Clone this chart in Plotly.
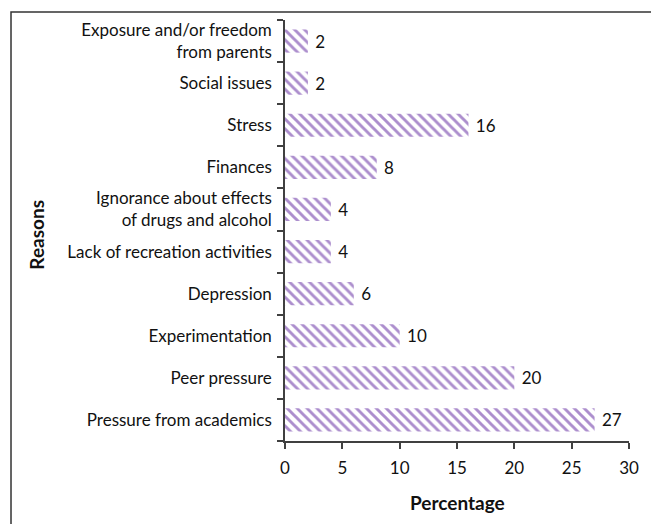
import plotly.graph_objects as go

# Reasons for substance use, listed bottom to top
reasons = [
    "Pressure from academics",
    "Peer pressure",
    "Experimentation",
    "Depression",
    "Lack of recreation activities",
    "Ignorance about effects<br>of drugs and alcohol",
    "Finances",
    "Stress",
    "Social issues",
    "Exposure and/or freedom<br>from parents",
]
percentages = [27, 20, 10, 6, 4, 4, 8, 16, 2, 2]
x_ticks = [0, 5, 10, 15, 20, 25, 30]

FONT = "Lato"
AXIS_COLOR = "#404040"
TEXT_COLOR = "#111111"

fig = go.Figure(
    go.Bar(
        x=percentages,
        y=reasons,
        orientation="h",
        text=[str(v) for v in percentages],
        texttemplate=" %{text}",
        textposition="outside",
        textfont=dict(family=FONT, size=17, color=TEXT_COLOR),
        cliponaxis=False,
        marker=dict(
            color="white",
            line=dict(width=0),
            pattern=dict(
                shape="\\",
                fgcolor="#5A1E9C",
                bgcolor="white",
                size=7,
                solidity=0.42,
            ),
        ),
    )
)

fig.update_layout(
    width=651,
    height=524,
    margin=dict(l=285, r=22, t=20, b=83),
    paper_bgcolor="white",
    plot_bgcolor="white",
    bargap=0.45,
    showlegend=False,
    font=dict(family=FONT, size=17, color=TEXT_COLOR),
)

fig.update_xaxes(
    range=[0, 30],
    tickvals=x_ticks,
    ticktext=[str(t) for t in x_ticks],
    showgrid=False,
    zeroline=False,
    showline=True,
    linecolor=AXIS_COLOR,
    linewidth=1.5,
    ticks="outside",
    ticklen=6,
    tickwidth=1.5,
    tickcolor=AXIS_COLOR,
    ticklabelstandoff=5,
    tickfont=dict(family=FONT, size=17, color=TEXT_COLOR),
)

fig.update_yaxes(
    categoryorder="array",
    categoryarray=reasons,
    showgrid=False,
    zeroline=False,
    showline=True,
    linecolor=AXIS_COLOR,
    linewidth=1.5,
    ticks="outside",
    tickson="boundaries",
    ticklen=6,
    tickwidth=1.5,
    tickcolor=AXIS_COLOR,
    ticklabelstandoff=8,
    tickfont=dict(family=FONT, size=17, color=TEXT_COLOR),
)

# Axis titles
fig.add_annotation(
    text="<b>Reasons</b>", xref="paper", yref="paper",
    x=-0.721, y=0.49, xanchor="center", yanchor="middle",
    textangle=-90, showarrow=False,
    font=dict(family=FONT, size=19, color=TEXT_COLOR),
)
fig.add_annotation(
    text="<b>Percentage</b>", xref="paper", yref="paper",
    x=0.5, y=-0.147, xanchor="center", yanchor="middle", showarrow=False,
    font=dict(family=FONT, size=19, color=TEXT_COLOR),
)

# Outer chart frame
fig.add_shape(
    type="rect", xref="paper", yref="paper",
    x0=-0.7965, x1=1.3, y0=-0.3, y1=1.019,
    line=dict(color="#333333", width=1.5),
    layer="below",
)

fig.write_html("out.html")
